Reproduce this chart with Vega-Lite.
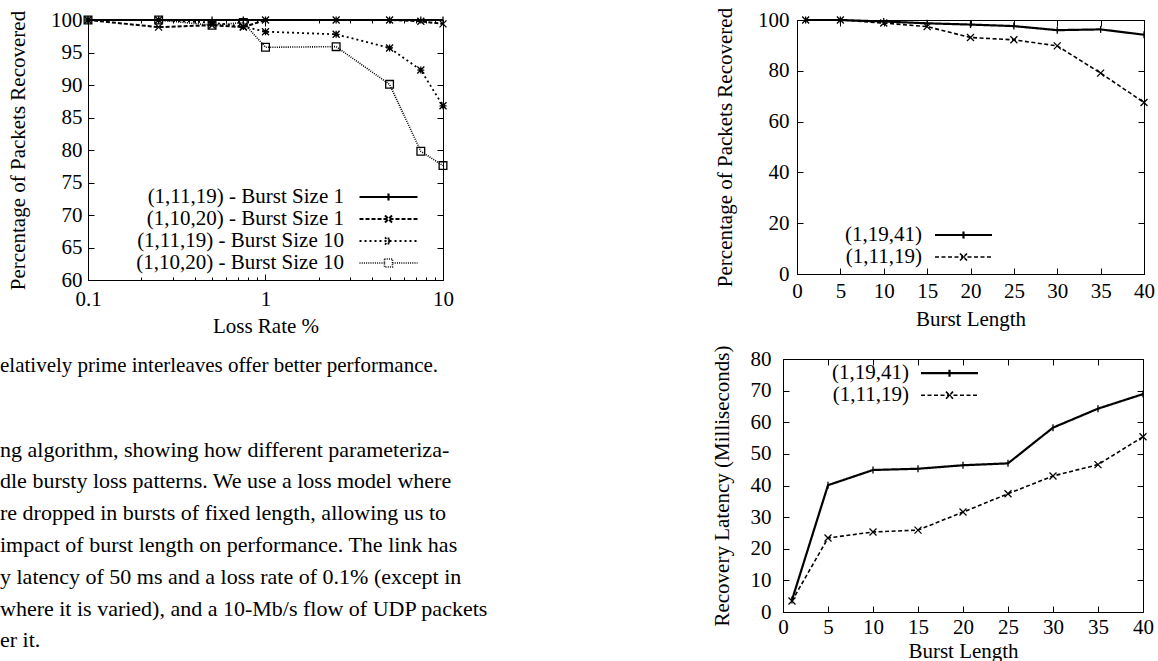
{
  "$schema": "https://vega.github.io/schema/vega-lite/v6.json",
  "padding": {"left": 0, "top": 6, "right": 0, "bottom": 0},
  "config": {
    "font": "Liberation Serif",
    "background": "white",
    "view": {"stroke": "black", "strokeWidth": 1},
    "axis": {
      "labelFont": "Liberation Serif", "labelFontSize": 21, "labelColor": "black",
      "titleFont": "Liberation Serif", "titleFontSize": 21, "titleFontWeight": "normal", "titleColor": "black",
      "tickColor": "black", "tickSize": -6, "tickWidth": 1, "domain": false, "grid": false,
      "labelFlush": false, "labelOverlap": false
    },
    "legend": {
      "labelFont": "Liberation Serif", "labelFontSize": 21, "labelColor": "black", "labelLimit": 1000,
      "orient": "none", "direction": "vertical", "padding": 0, "labelAlign": "right",
      "symbolSize": 256, "symbolStrokeWidth": 1.6, "symbolStrokeColor": "black", "symbolFillColor": "transparent"
    },
    "point": {"filled": false, "color": "black", "opacity": 1, "size": 49, "strokeWidth": 1.3}
  },
  "datasets": {
    "loss": [
      {"loss": 0.1, "series": "(1,11,19) - Burst Size 1", "pct": 100},
      {"loss": 0.25, "series": "(1,11,19) - Burst Size 1", "pct": 100},
      {"loss": 0.5, "series": "(1,11,19) - Burst Size 1", "pct": 100},
      {"loss": 0.75, "series": "(1,11,19) - Burst Size 1", "pct": 100},
      {"loss": 1, "series": "(1,11,19) - Burst Size 1", "pct": 100},
      {"loss": 2.5, "series": "(1,11,19) - Burst Size 1", "pct": 100},
      {"loss": 5, "series": "(1,11,19) - Burst Size 1", "pct": 100},
      {"loss": 7.5, "series": "(1,11,19) - Burst Size 1", "pct": 100},
      {"loss": 10, "series": "(1,11,19) - Burst Size 1", "pct": 100},
      {"loss": 0.1, "series": "(1,10,20) - Burst Size 1", "pct": 100},
      {"loss": 0.25, "series": "(1,10,20) - Burst Size 1", "pct": 98.9},
      {"loss": 0.5, "series": "(1,10,20) - Burst Size 1", "pct": 99.2},
      {"loss": 0.75, "series": "(1,10,20) - Burst Size 1", "pct": 98.9},
      {"loss": 1, "series": "(1,10,20) - Burst Size 1", "pct": 100},
      {"loss": 2.5, "series": "(1,10,20) - Burst Size 1", "pct": 100},
      {"loss": 5, "series": "(1,10,20) - Burst Size 1", "pct": 100},
      {"loss": 7.5, "series": "(1,10,20) - Burst Size 1", "pct": 99.8},
      {"loss": 10, "series": "(1,10,20) - Burst Size 1", "pct": 99.4},
      {"loss": 0.1, "series": "(1,11,19) - Burst Size 10", "pct": 100},
      {"loss": 0.25, "series": "(1,11,19) - Burst Size 10", "pct": 100},
      {"loss": 0.5, "series": "(1,11,19) - Burst Size 10", "pct": 99.6},
      {"loss": 0.75, "series": "(1,11,19) - Burst Size 10", "pct": 99.0},
      {"loss": 1, "series": "(1,11,19) - Burst Size 10", "pct": 98.2},
      {"loss": 2.5, "series": "(1,11,19) - Burst Size 10", "pct": 97.8},
      {"loss": 5, "series": "(1,11,19) - Burst Size 10", "pct": 95.7},
      {"loss": 7.5, "series": "(1,11,19) - Burst Size 10", "pct": 92.3},
      {"loss": 10, "series": "(1,11,19) - Burst Size 10", "pct": 86.8},
      {"loss": 0.1, "series": "(1,10,20) - Burst Size 10", "pct": 100},
      {"loss": 0.25, "series": "(1,10,20) - Burst Size 10", "pct": 100},
      {"loss": 0.5, "series": "(1,10,20) - Burst Size 10", "pct": 99.2},
      {"loss": 0.75, "series": "(1,10,20) - Burst Size 10", "pct": 99.6},
      {"loss": 1, "series": "(1,10,20) - Burst Size 10", "pct": 95.8},
      {"loss": 2.5, "series": "(1,10,20) - Burst Size 10", "pct": 95.9},
      {"loss": 5, "series": "(1,10,20) - Burst Size 10", "pct": 90.1},
      {"loss": 7.5, "series": "(1,10,20) - Burst Size 10", "pct": 79.8},
      {"loss": 10, "series": "(1,10,20) - Burst Size 10", "pct": 77.6}
    ],
    "recovered": [
      {"burst": 1, "series": "(1,19,41)", "pct": 100},
      {"burst": 5, "series": "(1,19,41)", "pct": 100},
      {"burst": 10, "series": "(1,19,41)", "pct": 99.4},
      {"burst": 15, "series": "(1,19,41)", "pct": 98.7},
      {"burst": 20, "series": "(1,19,41)", "pct": 98.2},
      {"burst": 25, "series": "(1,19,41)", "pct": 97.6},
      {"burst": 30, "series": "(1,19,41)", "pct": 96.0},
      {"burst": 35, "series": "(1,19,41)", "pct": 96.3},
      {"burst": 40, "series": "(1,19,41)", "pct": 94.2},
      {"burst": 1, "series": "(1,11,19)", "pct": 100},
      {"burst": 5, "series": "(1,11,19)", "pct": 100},
      {"burst": 10, "series": "(1,11,19)", "pct": 98.8},
      {"burst": 15, "series": "(1,11,19)", "pct": 97.4},
      {"burst": 20, "series": "(1,11,19)", "pct": 93.1},
      {"burst": 25, "series": "(1,11,19)", "pct": 92.2},
      {"burst": 30, "series": "(1,11,19)", "pct": 89.8},
      {"burst": 35, "series": "(1,11,19)", "pct": 79.1},
      {"burst": 40, "series": "(1,11,19)", "pct": 67.5}
    ],
    "latency": [
      {"burst": 1, "series": "(1,19,41)", "ms": 3.8},
      {"burst": 5, "series": "(1,19,41)", "ms": 40.1},
      {"burst": 10, "series": "(1,19,41)", "ms": 44.9},
      {"burst": 15, "series": "(1,19,41)", "ms": 45.3},
      {"burst": 20, "series": "(1,19,41)", "ms": 46.4},
      {"burst": 25, "series": "(1,19,41)", "ms": 47.0},
      {"burst": 30, "series": "(1,19,41)", "ms": 58.3},
      {"burst": 35, "series": "(1,19,41)", "ms": 64.3},
      {"burst": 40, "series": "(1,19,41)", "ms": 68.9},
      {"burst": 1, "series": "(1,11,19)", "ms": 3.5},
      {"burst": 5, "series": "(1,11,19)", "ms": 23.4},
      {"burst": 10, "series": "(1,11,19)", "ms": 25.3},
      {"burst": 15, "series": "(1,11,19)", "ms": 25.9},
      {"burst": 20, "series": "(1,11,19)", "ms": 31.6},
      {"burst": 25, "series": "(1,11,19)", "ms": 37.4},
      {"burst": 30, "series": "(1,11,19)", "ms": 43.0},
      {"burst": 35, "series": "(1,11,19)", "ms": 46.6},
      {"burst": 40, "series": "(1,11,19)", "ms": 55.4}
    ]
  },
  "resolve": {"scale": {"strokeDash": "independent", "strokeWidth": "independent"}, "legend": {"strokeDash": "independent"}},
  "vconcat": [
    {
      "resolve": {"scale": {"strokeDash": "independent", "strokeWidth": "independent"}, "legend": {"strokeDash": "independent"}},
      "hconcat": [
        {
          "resolve": {"scale": {"strokeDash": "independent", "strokeWidth": "independent"}, "legend": {"strokeDash": "independent"}},
          "hconcat": [
            {"width": 1, "height": 1, "data": {"values": []}, "mark": "point", "view": {"stroke": null}},
            {
              "width": 355, "height": 260,
              "data": {"name": "loss"},
              "layer": [
                {
                  "mark": {"type": "line", "color": "black"},
                  "encoding": {
                    "x": {"field": "loss", "type": "quantitative",
                      "scale": {"type": "log", "domain": [0.1, 10], "nice": false},
                      "axis": {"orient": "bottom", "title": "Loss Rate %", "labelPadding": 14, "titlePadding": 6,
                        "values": [0.1,0.2,0.3,0.4,0.5,0.6,0.7,0.8,0.9,1,2,3,4,5,6,7,8,9,10],
                        "labelExpr": "datum.value == 0.1 ? '0.1' : datum.value == 1 ? '1' : datum.value == 10 ? '10' : ''",
                        "tickDash": {"condition": {"test": "datum.value == 0.1 || datum.value == 1 || datum.value == 10", "value": [6, 0]}, "value": [3, 20]}}},
                    "y": {"field": "pct", "type": "quantitative",
                      "scale": {"domain": [60, 100], "nice": false, "zero": false},
                      "axis": {"orient": "left", "title": "Percentage of Packets Recovered", "labelPadding": 12, "titlePadding": 22,
                        "values": [60,65,70,75,80,85,90,95,100]}},
                    "strokeDash": {"field": "series", "type": "nominal",
                      "scale": {"domain": ["(1,11,19) - Burst Size 1", "(1,10,20) - Burst Size 1", "(1,11,19) - Burst Size 10", "(1,10,20) - Burst Size 10"],
                        "range": [[1, 0], [4, 2], [2, 3], [1, 1.2]]},
                      "legend": {"title": null, "legendX": 290, "legendY": 166.5, "labelOffset": -55, "rowPadding": 0,
                        "encode": {"symbols": {"update": {
                          "shape": {"signal": "datum.value === '(1,11,19) - Burst Size 1' ? 'M-3.625,0L3.625,0M0,-0.44L0,0.44' : datum.value === '(1,10,20) - Burst Size 1' ? 'M-3.625,0L3.625,0M-0.44,-0.44L0.44,0.44M-0.44,0.44L0.44,-0.44' : datum.value === '(1,11,19) - Burst Size 10' ? 'M-3.625,0L3.625,0M0,-0.44L0,0.44M-0.44,-0.44L0.44,0.44M-0.44,0.44L0.44,-0.44' : 'M-3.625,0L-0.5,0M0.5,0L3.625,0M-0.5,-0.5L0.5,-0.5L0.5,0.5L-0.5,0.5Z'"},
                          "strokeWidth": {"signal": "datum.value === '(1,11,19) - Burst Size 1' ? 2.2 : 1.6"}
                        }}}}},
                    "strokeWidth": {"field": "series", "type": "nominal",
                      "scale": {"domain": ["(1,11,19) - Burst Size 1", "(1,10,20) - Burst Size 1", "(1,11,19) - Burst Size 10", "(1,10,20) - Burst Size 10"],
                        "range": [2.2, 1.6, 1.6, 1.6]}, "legend": null}
                  }
                },
                {
                  "transform": [{"filter": {"field": "series", "equal": "(1,11,19) - Burst Size 1"}}],
                  "mark": {"type": "point", "shape": "M0,-1L0,1"},
                  "encoding": {
                    "x": {"field": "loss", "type": "quantitative",
                      "scale": {"type": "log", "domain": [0.1, 10], "nice": false},
                      "axis": {"orient": "top", "title": null, "labels": false,
                        "values": [0.1,0.2,0.3,0.4,0.5,0.6,0.7,0.8,0.9,1,2,3,4,5,6,7,8,9,10],
                        "tickDash": {"condition": {"test": "datum.value == 0.1 || datum.value == 1 || datum.value == 10", "value": [6, 0]}, "value": [3, 20]}}},
                    "y": {"field": "pct", "type": "quantitative",
                      "scale": {"domain": [60, 100], "nice": false, "zero": false},
                      "axis": {"orient": "right", "title": null, "labels": false, "values": [60,65,70,75,80,85,90,95,100]}}
                  }
                },
                {
                  "transform": [{"filter": {"field": "series", "equal": "(1,10,20) - Burst Size 1"}}],
                  "mark": {"type": "point", "shape": "M-1,-1L1,1M-1,1L1,-1"},
                  "encoding": {
                    "x": {"field": "loss", "type": "quantitative", "scale": {"type": "log", "domain": [0.1, 10], "nice": false}, "axis": null},
                    "y": {"field": "pct", "type": "quantitative", "scale": {"domain": [60, 100], "nice": false, "zero": false}, "axis": null}
                  }
                },
                {
                  "transform": [{"filter": {"field": "series", "equal": "(1,11,19) - Burst Size 10"}}],
                  "mark": {"type": "point", "shape": "M-1,0L1,0M0,-1L0,1M-1,-1L1,1M-1,1L1,-1"},
                  "encoding": {
                    "x": {"field": "loss", "type": "quantitative", "scale": {"type": "log", "domain": [0.1, 10], "nice": false}, "axis": null},
                    "y": {"field": "pct", "type": "quantitative", "scale": {"domain": [60, 100], "nice": false, "zero": false}, "axis": null}
                  }
                },
                {
                  "transform": [{"filter": {"field": "series", "equal": "(1,10,20) - Burst Size 10"}}],
                  "mark": {"type": "point", "shape": "M-1.1,-1.1L1.1,-1.1L1.1,1.1L-1.1,1.1Z"},
                  "encoding": {
                    "x": {"field": "loss", "type": "quantitative", "scale": {"type": "log", "domain": [0.1, 10], "nice": false}, "axis": null},
                    "y": {"field": "pct", "type": "quantitative", "scale": {"domain": [60, 100], "nice": false, "zero": false}, "axis": null}
                  }
                }
              ]
            }
          ],
          "spacing": 5
        },
        {
          "width": 347, "height": 254,
          "data": {"name": "recovered"},
          "layer": [
            {
              "mark": {"type": "line", "color": "black"},
              "encoding": {
                "x": {"field": "burst", "type": "quantitative",
                  "scale": {"domain": [0, 40], "nice": false},
                  "axis": {"orient": "bottom", "title": "Burst Length", "labelPadding": 12, "titlePadding": 7, "values": [0,5,10,15,20,25,30,35,40]}},
                "y": {"field": "pct", "type": "quantitative",
                  "scale": {"domain": [0, 100], "nice": false},
                  "axis": {"orient": "left", "title": "Percentage of Packets Recovered", "labelPadding": 14, "titlePadding": 22, "values": [0,20,40,60,80,100]}},
                "strokeDash": {"field": "series", "type": "nominal",
                  "scale": {"domain": ["(1,19,41)", "(1,11,19)"], "range": [[1, 0], [4, 2.5]]},
                  "legend": {"title": null, "legendX": 156, "legendY": 204.5, "labelOffset": -52, "rowPadding": 0,
                    "encode": {"symbols": {"update": {
                      "shape": {"signal": "datum.value === '(1,19,41)' ? 'M-3.5625,0L3.5625,0M0,-0.44L0,0.44' : 'M-3.5625,0L3.5625,0M-0.44,-0.44L0.44,0.44M-0.44,0.44L0.44,-0.44'"},
                      "strokeWidth": {"signal": "datum.value === '(1,19,41)' ? 2.2 : 1.6"}
                    }}}}},
                "strokeWidth": {"field": "series", "type": "nominal",
                  "scale": {"domain": ["(1,19,41)", "(1,11,19)"], "range": [2.2, 1.6]}, "legend": null}
              }
            },
            {
              "transform": [{"filter": {"field": "series", "equal": "(1,19,41)"}}],
              "mark": {"type": "point", "shape": "M0,-1L0,1"},
              "encoding": {
                "x": {"field": "burst", "type": "quantitative",
                  "scale": {"domain": [0, 40], "nice": false},
                  "axis": {"orient": "top", "title": null, "labels": false, "values": [0,5,10,15,20,25,30,35,40]}},
                "y": {"field": "pct", "type": "quantitative",
                  "scale": {"domain": [0, 100], "nice": false},
                  "axis": {"orient": "right", "title": null, "labels": false, "values": [0,20,40,60,80,100]}}
              }
            },
            {
              "transform": [{"filter": {"field": "series", "equal": "(1,11,19)"}}],
              "mark": {"type": "point", "shape": "M-1,-1L1,1M-1,1L1,-1"},
              "encoding": {
                "x": {"field": "burst", "type": "quantitative", "scale": {"domain": [0, 40], "nice": false}, "axis": null},
                "y": {"field": "pct", "type": "quantitative", "scale": {"domain": [0, 100], "nice": false}, "axis": null}
              }
            }
          ]
        }
      ],
      "spacing": 259
    },
    {
      "resolve": {"scale": {"strokeDash": "independent", "strokeWidth": "independent"}, "legend": {"strokeDash": "independent"}},
      "hconcat": [
        {
          "width": 580, "height": 1,
          "data": {"values": []},
          "mark": "point",
          "view": {"stroke": null},
          "title": {
            "text": "elatively prime interleaves offer better performance.",
            "subtitle": [
              "\u00a0ng algorithm, showing how different parameteriza-",
              "dle bursty loss patterns. We use a loss model where",
              "re dropped in bursts of fixed length, allowing us to",
              "\u00a0impact of burst length on performance. The link has",
              "y latency of 50 ms and a loss rate of 0.1% (except in",
              "where it is varied), and a 10-Mb/s flow of UDP packets",
              "er it."
            ],
            "orient": "bottom", "anchor": "start", "frame": "group", "offset": -4.6,
            "font": "Liberation Serif", "fontSize": 21, "fontWeight": "normal", "color": "black",
            "subtitleFont": "Liberation Serif", "subtitleFontSize": 22, "subtitleColor": "black",
            "subtitleLineHeight": 31.8, "subtitlePadding": 63.2
          }
        },
        {
          "width": 360, "height": 253,
          "data": {"name": "latency"},
          "layer": [
            {
              "mark": {"type": "line", "color": "black"},
              "encoding": {
                "x": {"field": "burst", "type": "quantitative",
                  "scale": {"domain": [0, 40], "nice": false},
                  "axis": {"orient": "bottom", "title": "Burst Length", "labelPadding": 10, "titlePadding": 3, "values": [0,5,10,15,20,25,30,35,40]}},
                "y": {"field": "ms", "type": "quantitative",
                  "scale": {"domain": [0, 80], "nice": false},
                  "axis": {"orient": "left", "title": "Recovery Latency (Milliseconds)", "labelPadding": 18, "titlePadding": 18, "values": [0,10,20,30,40,50,60,70,80]}},
                "strokeDash": {"field": "series", "type": "nominal",
                  "scale": {"domain": ["(1,19,41)", "(1,11,19)"], "range": [[1, 0], [4, 2.5]]},
                  "legend": {"title": null, "legendX": 156, "legendY": 3.7, "labelOffset": -51, "rowPadding": 0,
                    "encode": {"symbols": {"update": {
                      "shape": {"signal": "datum.value === '(1,19,41)' ? 'M-3.5625,0L3.5625,0M0,-0.44L0,0.44' : 'M-3.5625,0L3.5625,0M-0.44,-0.44L0.44,0.44M-0.44,0.44L0.44,-0.44'"},
                      "strokeWidth": {"signal": "datum.value === '(1,19,41)' ? 2.2 : 1.6"}
                    }}}}},
                "strokeWidth": {"field": "series", "type": "nominal",
                  "scale": {"domain": ["(1,19,41)", "(1,11,19)"], "range": [2.2, 1.6]}, "legend": null}
              }
            },
            {
              "transform": [{"filter": {"field": "series", "equal": "(1,19,41)"}}],
              "mark": {"type": "point", "shape": "M0,-1L0,1"},
              "encoding": {
                "x": {"field": "burst", "type": "quantitative",
                  "scale": {"domain": [0, 40], "nice": false},
                  "axis": {"orient": "top", "title": null, "labels": false, "values": [0,5,10,15,20,25,30,35,40]}},
                "y": {"field": "ms", "type": "quantitative",
                  "scale": {"domain": [0, 80], "nice": false},
                  "axis": {"orient": "right", "title": null, "labels": false, "values": [0,10,20,30,40,50,60,70,80]}}
              }
            },
            {
              "transform": [{"filter": {"field": "series", "equal": "(1,11,19)"}}],
              "mark": {"type": "point", "shape": "M-1,-1L1,1M-1,1L1,-1"},
              "encoding": {
                "x": {"field": "burst", "type": "quantitative", "scale": {"domain": [0, 40], "nice": false}, "axis": null},
                "y": {"field": "ms", "type": "quantitative", "scale": {"domain": [0, 80], "nice": false}, "axis": null}
              }
            }
          ]
        }
      ],
      "spacing": 130
    }
  ],
  "spacing": 7
}
